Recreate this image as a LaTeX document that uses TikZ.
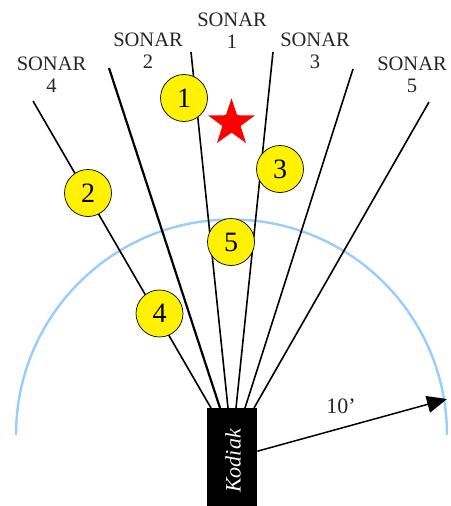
\documentclass[tikz,border=0pt]{standalone}
\usepackage{fontspec}
\setmainfont{Liberation Serif}
\usetikzlibrary{arrows.meta}
\definecolor{arcblue}{HTML}{99CCFF}
\tikzset{
  beam/.style={draw=black, line width=1.6pt},
  numcirc/.style={circle, draw=black, line width=0.7pt, fill=yellow, minimum size=47pt, inner sep=0pt, font=\fontsize{28}{30}\selectfont},
  sonarlabel/.style={align=center, font=\fontsize{20.5}{22}\selectfont, inner sep=0pt, text=black!85},
}
\begin{document}
\begin{tikzpicture}[x=1pt, y=-1pt]
\useasboundingbox (0,0) rectangle (450,506);
% range arc
\draw[arcblue, line width=2.4pt] (16,435) arc[start angle=180, end angle=360, radius=215.5];
% kodiak box
\node[fill=black, minimum width=50pt, minimum height=98pt, inner sep=0pt, anchor=north west] (kodiak) at (207,408) {};
\node[rotate=90, text=white, font=\fontsize{22}{24}\selectfont\itshape, inner sep=0pt] (kodiaktext) at (233,461) {Kodiak};
% range arrow
\coordinate (tip) at (447,399);
\draw[line width=1.5pt, -{Triangle[length=20pt,width=17pt]}] ([yshift=6pt]kodiak.east) -- (tip);
\node[font=\fontsize{22}{24}\selectfont, inner sep=0pt, text=black!85] (range) at (341,406) {10’};
% beam end points
\coordinate (b4) at (211,408);
\coordinate (b2) at (220,408);
\coordinate (b1) at (228,408);
\coordinate (b3) at (236,408);
\coordinate (b3r) at (245,408);
\coordinate (b5) at (254,408);
\coordinate (t4) at (33,101);
\coordinate (t2) at (109,68);
\coordinate (t1) at (191,52);
\coordinate (t3) at (273,52);
\coordinate (t3r) at (353,69);
\coordinate (t5) at (429,102);
\draw[beam] (b4) -- (t4);
\draw[beam, line width=2.2pt] (b2) -- (t2);
\draw[beam] (b1) -- (t1);
\draw[beam] (b3) -- (t3);
\draw[beam] (b3r) -- (t3r);
\draw[beam] (b5) -- (t5);
% labels
\node[sonarlabel, anchor=base] (s1) at (232,48) {SONAR\\1};
\node[sonarlabel, anchor=base] (s2) at (148,68) {SONAR\\2};
\node[sonarlabel, anchor=base] (s3) at (315,68) {SONAR\\3};
\node[sonarlabel, anchor=base] (s4) at (51.5,92) {SONAR\\4};
\node[sonarlabel, anchor=base] (s5) at (412,92) {SONAR\\5};
% numbered circles
\node[numcirc] (c1) at (184,98) {1};
\node[numcirc] (c2) at (88,193) {2};
\node[numcirc] (c3) at (280,169) {3};
\node[numcirc] (c4) at (159.5,313.5) {4};
\node[numcirc] (c5) at (231,242) {5};
% star
\fill[red] (231.5,123) +(-90:24.7)
  \foreach \k in {1,...,9} { -- +({-90+36*\k}:{ifthenelse(isodd(\k),9.6,24.7)}) } -- cycle;
\end{tikzpicture}
\end{document}
